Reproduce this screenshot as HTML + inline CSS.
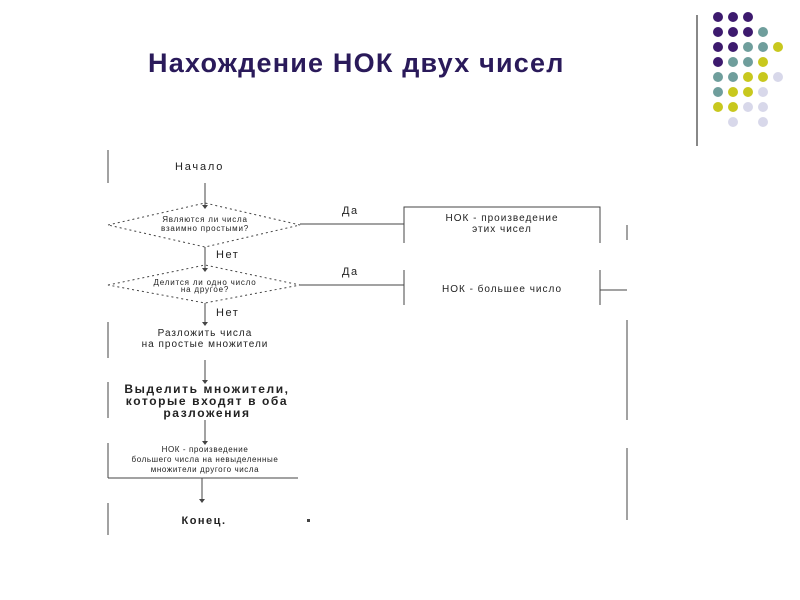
<!DOCTYPE html>
<html><head><meta charset="utf-8"><style>
body{margin:0;background:#fff;}
svg{display:block;}
text{font-family:"Liberation Sans",sans-serif;fill:#222;}
</style></head><body>
<svg width="800" height="600" xmlns="http://www.w3.org/2000/svg">
<text x="148" y="72" font-size="27" font-weight="bold" letter-spacing="1.2" style="fill:#2a1a5a">Нахождение НОК двух чисел</text>
<line x1="697" y1="15" x2="697" y2="146" stroke="#888" stroke-width="2"/>
<g>
<circle cx="718" cy="17" r="5" fill="#3d1a6e"/><circle cx="733" cy="17" r="5" fill="#3d1a6e"/><circle cx="748" cy="17" r="5" fill="#3d1a6e"/>
<circle cx="718" cy="32" r="5" fill="#3d1a6e"/><circle cx="733" cy="32" r="5" fill="#3d1a6e"/><circle cx="748" cy="32" r="5" fill="#3d1a6e"/><circle cx="763" cy="32" r="5" fill="#6f9e9c"/>
<circle cx="718" cy="47" r="5" fill="#3d1a6e"/><circle cx="733" cy="47" r="5" fill="#3d1a6e"/><circle cx="748" cy="47" r="5" fill="#6f9e9c"/><circle cx="763" cy="47" r="5" fill="#6f9e9c"/><circle cx="778" cy="47" r="5" fill="#c8c81e"/>
<circle cx="718" cy="62" r="5" fill="#3d1a6e"/><circle cx="733" cy="62" r="5" fill="#6f9e9c"/><circle cx="748" cy="62" r="5" fill="#6f9e9c"/><circle cx="763" cy="62" r="5" fill="#c8c81e"/>
<circle cx="718" cy="77" r="5" fill="#6f9e9c"/><circle cx="733" cy="77" r="5" fill="#6f9e9c"/><circle cx="748" cy="77" r="5" fill="#c8c81e"/><circle cx="763" cy="77" r="5" fill="#c8c81e"/><circle cx="778" cy="77" r="5" fill="#d8d8ea"/>
<circle cx="718" cy="92" r="5" fill="#6f9e9c"/><circle cx="733" cy="92" r="5" fill="#c8c81e"/><circle cx="748" cy="92" r="5" fill="#c8c81e"/><circle cx="763" cy="92" r="5" fill="#d8d8ea"/>
<circle cx="718" cy="107" r="5" fill="#c8c81e"/><circle cx="733" cy="107" r="5" fill="#c8c81e"/><circle cx="748" cy="107" r="5" fill="#d8d8ea"/><circle cx="763" cy="107" r="5" fill="#d8d8ea"/>
<circle cx="733" cy="122" r="5" fill="#d8d8ea"/><circle cx="763" cy="122" r="5" fill="#d8d8ea"/>
</g>
<g stroke="#444" stroke-width="1" fill="none">
<line x1="108" y1="150" x2="108" y2="183"/>
<line x1="108" y1="322" x2="108" y2="358"/>
<line x1="108" y1="382" x2="108" y2="418"/>
<line x1="108" y1="443" x2="108" y2="478"/>
<line x1="108" y1="478" x2="298" y2="478"/>
<line x1="108" y1="503" x2="108" y2="535"/>
<line x1="205" y1="183" x2="205" y2="205"/>
<polygon points="108,225 205,203 300,225 205,247" stroke-dasharray="2,3"/>
<line x1="300" y1="224" x2="404" y2="224"/>
<line x1="205" y1="247" x2="205" y2="268"/>
<polygon points="108,285 205,265 300,285 205,303" stroke-dasharray="2,3"/>
<line x1="300" y1="285" x2="404" y2="285"/>
<line x1="205" y1="303" x2="205" y2="322"/>
<line x1="205" y1="360" x2="205" y2="382"/>
<line x1="205" y1="420" x2="205" y2="443"/>
<line x1="202" y1="478" x2="202" y2="500"/>
<polyline points="404,243 404,207 600,207 600,243"/>
<polyline points="404,305 404,270"/>
<line x1="600" y1="270" x2="600" y2="305"/>
<line x1="600" y1="290" x2="627" y2="290"/>
<line x1="627" y1="225" x2="627" y2="240"/>
<line x1="627" y1="320" x2="627" y2="420"/>
<line x1="627" y1="448" x2="627" y2="520"/>
</g>
<g fill="#444">
<polygon points="202,205 208,205 205,209"/><polygon points="202,268 208,268 205,272"/>
<polygon points="202,322 208,322 205,326"/><polygon points="202,380 208,380 205,384"/>
<polygon points="202,441 208,441 205,445"/><polygon points="199,499 205,499 202,503"/>
<rect x="307" y="519" width="3" height="3"/>
</g>
<text x="175" y="170" font-size="11" letter-spacing="1.8">Начало</text>
<text x="205" y="222" font-size="8" letter-spacing="0.8" text-anchor="middle">Являются ли числа</text>
<text x="205" y="231" font-size="8" letter-spacing="0.8" text-anchor="middle">взаимно простыми?</text>
<text x="205" y="285" font-size="8" letter-spacing="0.8" text-anchor="middle">Делится ли одно число</text>
<text x="205" y="292" font-size="8" letter-spacing="0.8" text-anchor="middle">на другое?</text>
<text x="342" y="214" font-size="11" letter-spacing="1.5">Да</text>
<text x="342" y="275" font-size="11" letter-spacing="1.5">Да</text>
<text x="216" y="258" font-size="11" letter-spacing="1.5">Нет</text>
<text x="216" y="316" font-size="11" letter-spacing="1.5">Нет</text>
<text x="502" y="221" font-size="10" letter-spacing="1" text-anchor="middle">НОК - произведение</text>
<text x="502" y="232" font-size="10" letter-spacing="1" text-anchor="middle">этих чисел</text>
<text x="502" y="292" font-size="10" letter-spacing="1" text-anchor="middle">НОК - большее число</text>
<text x="205" y="336" font-size="10" letter-spacing="1" text-anchor="middle">Разложить числа</text>
<text x="205" y="347" font-size="10" letter-spacing="1" text-anchor="middle">на простые множители</text>
<text x="207" y="393" font-size="12" font-weight="bold" letter-spacing="1.6" text-anchor="middle">Выделить множители,</text>
<text x="207" y="405" font-size="12" font-weight="bold" letter-spacing="1.6" text-anchor="middle">которые входят в оба</text>
<text x="207" y="417" font-size="12" font-weight="bold" letter-spacing="1.6" text-anchor="middle">разложения</text>
<text x="205" y="452" font-size="8" letter-spacing="0.6" text-anchor="middle">НОК - произведение</text>
<text x="205" y="462" font-size="8" letter-spacing="0.6" text-anchor="middle">большего числа на невыделенные</text>
<text x="205" y="472" font-size="8" letter-spacing="0.6" text-anchor="middle">множители другого числа</text>
<text x="204" y="524" font-size="11" font-weight="bold" letter-spacing="1.5" text-anchor="middle">Конец.</text>
</svg>
</body></html>
